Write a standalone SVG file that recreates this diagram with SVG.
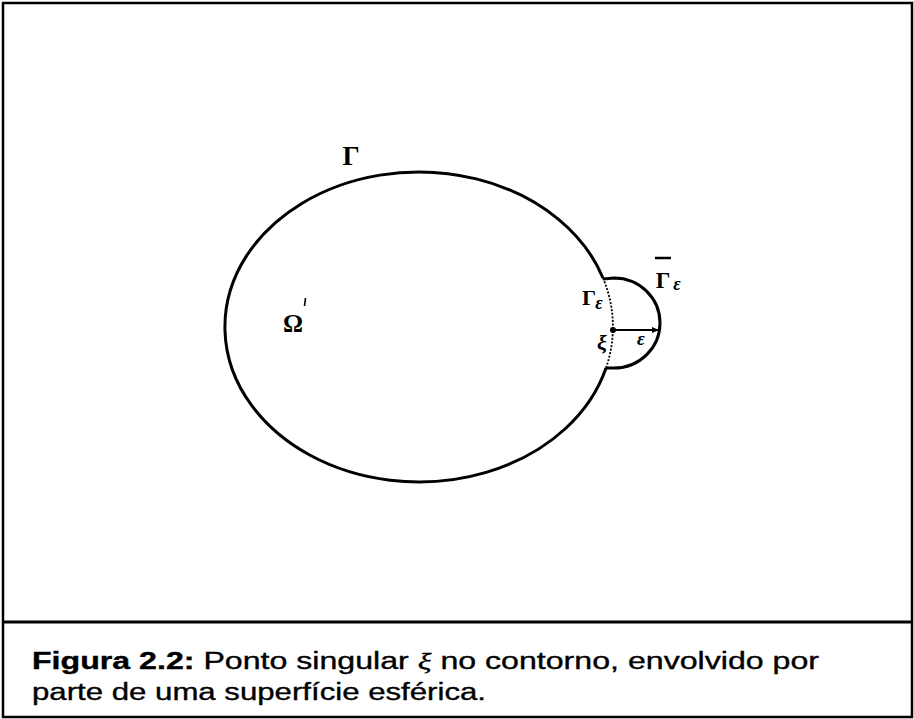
<svg xmlns="http://www.w3.org/2000/svg" width="914" height="719" viewBox="0 0 914 719">
<style>
.frame{fill:none;stroke:#000;stroke-width:2.5}
.curve{fill:none;stroke:#000;stroke-width:3}
.dotted{fill:none;stroke:#000;stroke-width:1.8;stroke-dasharray:2 1.6}
.greek{font-family:"Liberation Serif","DejaVu Serif",serif;font-weight:bold;fill:#000}
.greeki{font-family:"Liberation Serif","DejaVu Serif",serif;font-style:italic;font-weight:bold;fill:#000}
.cap{font-family:"Liberation Sans",Arial,sans-serif;font-size:23px;fill:#000;stroke:#000;stroke-width:0.35}
</style>
<defs>
<marker id="arr" markerWidth="8" markerHeight="8" refX="7" refY="4" orient="auto" markerUnits="userSpaceOnUse">
<path d="M0,1 L7,4 L0,7 Z" fill="#000"/>
</marker>
</defs>
<rect fill="#fff" x="0" y="0" width="914" height="719"/>
<g id="frame">
<rect class="frame" x="3" y="3" width="909" height="714"/>
<line class="frame" x1="3" y1="622" x2="912" y2="622" style="stroke-width:3"/>
</g>
<g id="boundary">
<path class="curve" d="M603,278 A194,155 0 1 0 606,368"/>
<path class="dotted" d="M603,278 A194,155 0 0 1 606,368"/>
<text class="greek" x="351" y="165" font-size="27" text-anchor="middle">Γ</text>
</g>
<g id="domain">
<text class="greek" x="293" y="332" font-size="25" text-anchor="middle">Ω</text>
<line x1="305.5" y1="298" x2="304.5" y2="306" stroke="#000" stroke-width="1.6"/>
</g>
<g id="sphere">
<path class="curve" d="M603,279 L614,278 A46,45 0 0 1 614,368 L606,368"/>
<text class="greek" x="589" y="305" font-size="22" text-anchor="middle">Γ</text>
<text class="greeki" x="599" y="309" font-size="18" text-anchor="middle">ε</text>
<line x1="655" y1="258" x2="671" y2="258" stroke="#000" stroke-width="2.5"/>
<text class="greek" x="663" y="288" font-size="23" text-anchor="middle">Γ</text>
<text class="greeki" x="677" y="290" font-size="18" text-anchor="middle">ε</text>
</g>
<g id="xi">
<circle cx="613" cy="330" r="3" fill="#000"/>
<text class="greeki" x="602" y="350" font-size="22" text-anchor="middle">ξ</text>
</g>
<g id="connectors">
<line x1="613" y1="330" x2="659" y2="330" stroke="#000" stroke-width="2" marker-end="url(#arr)"/>
<text class="greeki" x="641" y="345" font-size="19" text-anchor="middle">ε</text>
</g>
<g id="caption">
<text class="cap" x="32" y="669" textLength="787" lengthAdjust="spacingAndGlyphs"><tspan font-weight="bold">Figura 2.2:</tspan> Ponto singular <tspan font-family="'Liberation Serif',serif" font-style="italic">ξ</tspan> no contorno, envolvido por</text>
<text class="cap" x="32" y="700" textLength="454" lengthAdjust="spacingAndGlyphs">parte de uma superfície esférica.</text>
</g>
</svg>
